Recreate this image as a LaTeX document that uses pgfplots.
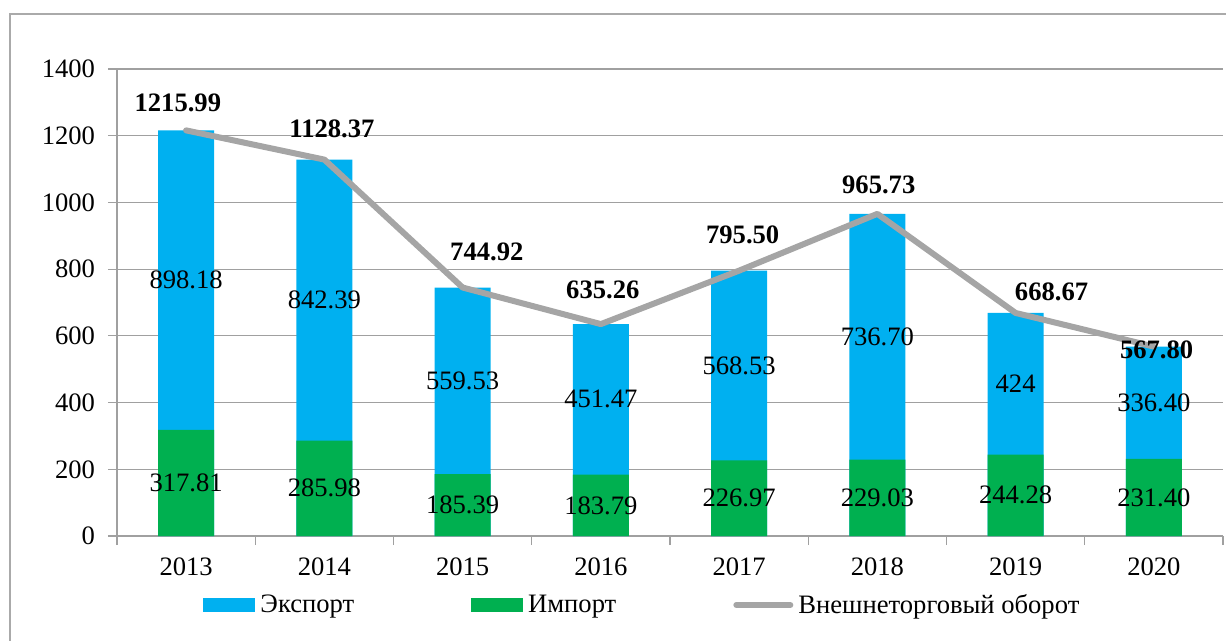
\documentclass[border=0pt]{standalone}
\usepackage{fontspec}
\setmainfont{Liberation Serif}
\usepackage{pgfplots}
\pgfplotsset{compat=1.18}
\usepackage{pgfplotstable}

\definecolor{expblue}{RGB}{0,176,240}
\definecolor{impgreen}{RGB}{0,176,80}
\definecolor{linegray}{RGB}{165,165,165}
\definecolor{gridgray}{RGB}{160,160,160}
\definecolor{framegray}{RGB}{170,170,170}
\newcommand\lblfont{\fontsize{13.3bp}{16bp}\selectfont}

\pgfplotsset{
    barleg/.style={legend image code/.code={\fill[##1] (0bp,-3.5bp) rectangle (26bp,3.5bp);}},
    lineleg/.style={legend image code/.code={\draw[##1] (1.5bp,0bp) -- (28.5bp,0bp);}},
}

% import, export, total turnover by year
\pgfplotstableread{
x imp exp tot
0 317.81 898.18 1215.99
1 285.98 842.39 1128.37
2 185.39 559.53 744.92
3 183.79 451.47 635.26
4 226.97 568.53 795.50
5 229.03 736.70 965.73
6 244.28 424 668.67
7 231.40 336.40 567.80
}\trade

% where the bold total labels sit (moved by hand in the original)
\pgfplotstableread{
lx ly lab
-0.06 1298 1215.99
1.055 1220 1128.37
2.175 851 744.92
3.014 737 635.26
4.026 902 795.50
5.01 1052 965.73
6.26 731 668.67
7.02 558 567.80
}\totlabels

\begin{document}
\begin{tikzpicture}
\begin{axis}[
    at={(0,0)}, anchor=south west,
    scale only axis, width=553bp, height=233.5bp,
    xmin=-0.5, xmax=7.5, ymin=0, ymax=1400,
    xtick={0,...,7},
    xticklabels={2013,2014,2015,2016,2017,2018,2019,2020},
    minor xtick={-0.5,0.5,...,7.5},
    ytick={0,200,...,1400},
    ymajorgrids, grid style={gridgray, line width=0.6bp},
    axis x line*=bottom, axis y line*=left,
    axis line style={gridgray, line width=0.6bp, -},
    tick align=outside, major tick length=4.5bp, minor tick length=4.5bp,
    tick style={gridgray, line width=0.6bp},
    major x tick style={draw=none},
    tick label style={font=\lblfont},
    yticklabel style={/pgf/number format/assume math mode=true,
        /pgf/number format/1000 sep={}, xshift=-3bp},
    xticklabel style={yshift=-3bp},
    legend columns=3,
    legend style={at={(0.0778,0)}, anchor=west, yshift=-34.5bp,
        draw=none, fill=none, inner sep=0pt, font=\lblfont,
        nodes={inner sep=2.5bp},
        /tikz/every even column/.append style={column sep=56bp}},
]
\addplot[ybar, bar width=28bp, bar shift=0pt, fill=expblue, draw=none, barleg]
    table[x=x, y=tot] {\trade};
\addlegendentry{Экспорт}
\addplot[ybar, bar width=28bp, bar shift=0pt, fill=impgreen, draw=none, barleg]
    table[x=x, y=imp] {\trade};
\addlegendentry{Импорт}

% values inside the bar segments
\addplot[draw=none, forget plot, nodes near coords, point meta=explicit symbolic,
    nodes near coords style={anchor=center, font=\lblfont}]
    table[x=x, y expr=\thisrow{imp}/2, meta=imp] {\trade};
\addplot[draw=none, forget plot, nodes near coords, point meta=explicit symbolic,
    nodes near coords style={anchor=center, font=\lblfont}]
    table[x=x, y expr=\thisrow{imp}+\thisrow{exp}/2, meta=exp] {\trade};

\addplot[linegray, line width=3bp, line join=round, line cap=round, lineleg]
    table[x=x, y=tot] {\trade};
\addlegendentry{Внешнеторговый оборот}

\addplot[draw=none, forget plot, nodes near coords, point meta=explicit symbolic,
    nodes near coords style={anchor=center, font=\lblfont\bfseries}]
    table[x=lx, y=ly, meta=lab] {\totlabels};
\end{axis}
\draw[framegray, line width=0.8bp] (-53.5bp,-80bp) -- (-53.5bp,261bp) -- (620bp,261bp);
\pgfresetboundingbox
\useasboundingbox (-58.5bp,-52.5bp) rectangle (554.5bp,268bp);
\end{tikzpicture}
\end{document}
